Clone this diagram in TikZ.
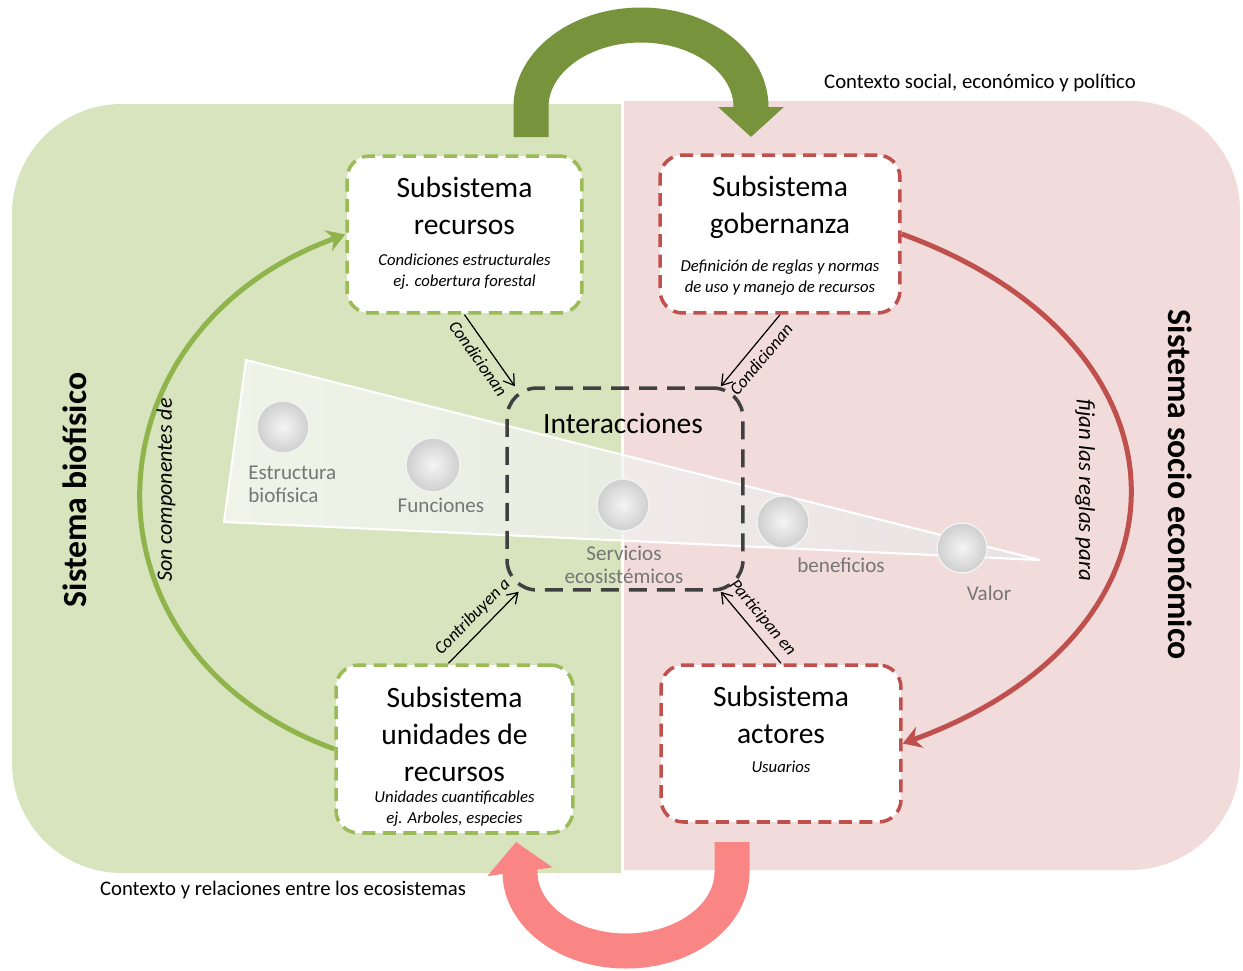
\documentclass[tikz,border=0pt]{standalone}
\usepackage{fontspec}
\setmainfont{Carlito}
\usetikzlibrary{arrows.meta}
\definecolor{fondoverde}{RGB}{215,228,189}
\definecolor{fondorosa}{RGB}{242,220,219}
\definecolor{verdeoliva}{RGB}{155,187,89}
\definecolor{rojoladrillo}{RGB}{192,80,77}
\definecolor{verdeflecha}{RGB}{119,147,60}
\definecolor{rosaflecha}{RGB}{249,133,133}
\definecolor{verdearco}{RGB}{142,180,75}
\definecolor{grisetiq}{RGB}{118,118,118}
\definecolor{grisborde}{RGB}{64,64,64}

\begin{document}
\begin{tikzpicture}[x=0.02cm, y=0.02cm,
  subsis/.style={draw=#1, fill=white, rounded corners=0.45cm, line width=2pt,
    dash pattern=on 0.26cm off 0.15cm, inner sep=0pt},
  titulo/.style={align=center, font=\fontsize{16.8}{21}\selectfont, inner sep=0pt},
  nota/.style={align=center, font=\fontsize{9.5}{11.9}\selectfont\itshape, inner sep=0pt},
  etiq/.style={font=\fontsize{10}{12}\selectfont\itshape, inner sep=4pt},
  gris/.style={text=grisetiq, font=\fontsize{12}{13}\selectfont, inner sep=0pt},
  sistema/.style={font=\fontsize{19.2}{23}\selectfont\bfseries, inner sep=0pt},
  contexto/.style={font=\fontsize{11.8}{14}\selectfont, inner sep=0pt},
  flechita/.style={line width=0.7pt, -{Straight Barb[length=2mm, width=2.6mm]}},
  esfera/.style={inner color=white!92!gray, outer color=gray!38, draw=white!90!gray, line width=0.8pt},
  banda/.style={line width=0.7cm, -{Triangle[length=0.6cm, width=1.28cm]}},
  arco/.style={line width=0.1cm, -{Stealth[length=0.36cm, width=0.44cm]}}]
\useasboundingbox (0,0) rectangle (1243,-970);

% fondos
\fill[fondoverde] (621,-104) -- (122,-104) arc[start angle=90, end angle=180, radius=110]
  -- (12,-763) arc[start angle=180, end angle=270, radius=110] -- (621,-873) -- cycle;
\fill[fondorosa] (624,-101) -- (1130,-101) arc[start angle=90, end angle=0, radius=110]
  -- (1240,-760) arc[start angle=0, end angle=-90, radius=110] -- (624,-870) -- cycle;

% flechas grandes
\draw[banda, verdeflecha] (531,-137) -- (531,-107)
  arc[start angle=180, end angle=0, x radius=110, y radius=82] -- (751,-137);
\draw[banda, rosaflecha] (732,-842) -- (732,-872)
  arc[start angle=0, end angle=-180, x radius=106, y radius=79] -- (516,-842);

% cadena de servicios
\shade[left color=white!97!gray, right color=gray!20, fill opacity=0.7, draw=white, line width=1.2pt]
  (246,-360) -- (1040,-560) -- (224,-522) -- cycle;
\shade[esfera] (283,-427) circle[radius=26];
\shade[esfera] (433,-465) circle[radius=27];
\shade[esfera] (623,-505) circle[radius=26];
\shade[esfera] (783,-522) circle[radius=26];
\shade[esfera] (962,-548) circle[radius=25];
\node[gris, align=left, anchor=west] (estructura) at (248,-484) {Estructura\\biofísica};
\node[gris] (funciones) at (441,-505) {Funciones};
\node[gris, align=center] (servicios) at (624,-565) {Servicios\\ecosistémicos};
\node[gris] (beneficios) at (841,-565) {beneficios};
\node[gris] (valor) at (989,-593) {Valor};

\node[draw=grisborde, rounded corners=0.6cm, line width=2pt, dash pattern=on 0.36cm off 0.2cm,
  minimum width=4.72cm, minimum height=4.04cm] (inter) at (625,-489) {};
\node[titulo] (inter-tit) at (623,-423) {Interacciones};

% subsistemas
\node[subsis=verdeoliva, minimum width=4.7cm, minimum height=3.14cm] (recursos) at (464.5,-234.5) {};
\node[subsis=rojoladrillo, minimum width=4.8cm, minimum height=3.16cm] (gobernanza) at (780,-234) {};
\node[subsis=verdeoliva, minimum width=4.74cm, minimum height=3.36cm] (unidades) at (454.5,-749) {};
\node[subsis=rojoladrillo, minimum width=4.8cm, minimum height=3.14cm] (actores) at (781,-743.5) {};

\draw[arco, verdearco] (unidades.west) to[out=160, in=200, looseness=1.4] (recursos.west);
\draw[arco, rojoladrillo] (gobernanza.east) to[out=-20, in=20, looseness=1.62] (actores.east);

\node[titulo] (recursos-tit) at (464.5,-206) {Subsistema\\recursos};
\node[nota] (recursos-not) at (464.5,-271.5) {Condiciones estructurales\\ej. cobertura forestal};
\node[titulo] (gobernanza-tit) at (780,-207) {Subsistema\\gobernanza};
\node[nota] (gobernanza-not) at (780,-277.5) {Definición de reglas y normas\\de uso y manejo de recursos};
\node[titulo] (unidades-tit) at (454.5,-734) {Subsistema\\unidades de\\recursos};
\node[nota] (unidades-not) at (454.5,-808.5) {Unidades cuantificables\\ej. Arboles, especies};
\node[titulo] (actores-tit) at (781,-714.5) {Subsistema\\actores};
\node[nota] (actores-not) at (781,-767) {Usuarios};

\draw[flechita] (recursos.south) -- (inter.137) node[midway, sloped, below, etiq] {Condicionan};
\draw[flechita] (gobernanza.south) -- (inter.47) node[midway, sloped, below, etiq] {Condicionan};
\draw[flechita] (unidades.94) -- (inter.224) node[midway, sloped, above, etiq] {Contribuyen a};
\draw[flechita] (actores.north) -- (inter.-47) node[midway, sloped, above, etiq] {Participan en};

\node[sistema, rotate=90] (biofisico) at (75,-490) {Sistema biofísico};
\node[sistema, rotate=-90] (socioeco) at (1180,-485) {Sistema socio económico};
\node[etiq, font=\fontsize{12.5}{14}\selectfont\itshape, rotate=90] (componentes) at (166,-490) {Son componentes de};
\node[etiq, font=\fontsize{13}{15}\selectfont\itshape, rotate=-90] (fijan) at (1085,-490) {fijan las reglas para};
\node[contexto] (ctx-social) at (980,-83) {Contexto social, económico y político};
\node[contexto] (ctx-eco) at (283,-890) {Contexto y relaciones entre los ecosistemas};
\end{tikzpicture}
\end{document}
